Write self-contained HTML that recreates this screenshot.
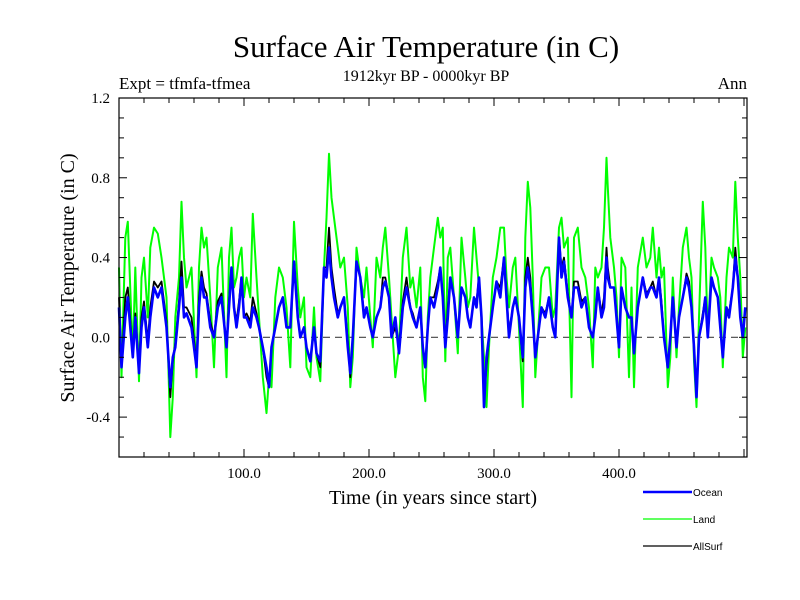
<!DOCTYPE html>
<html><head><meta charset="utf-8"><style>
html,body{margin:0;padding:0;background:#fff;}
svg{display:block;font-family:"Liberation Serif",serif;}
</style></head><body>
<svg id="chart" width="800" height="600" viewBox="0 0 800 600">
<rect width="800" height="600" fill="#fff"/>
<text x="426" y="57" font-size="31" text-anchor="middle">Surface Air Temperature (in C)</text>
<text x="426" y="81" font-size="16" text-anchor="middle">1912kyr BP - 0000kyr BP</text>
<text x="119" y="89" font-size="17">Expt = tfmfa-tfmea</text>
<text x="747" y="89" font-size="17" text-anchor="end">Ann</text>
<text transform="translate(74,278) rotate(-90)" font-size="20" text-anchor="middle">Surface Air Temperature (in C)</text>
<text x="433" y="504" font-size="20" text-anchor="middle">Time (in years since start)</text>
<g id="series"></g>
<g id="axes"></g>
<g font-family="Liberation Sans, sans-serif" font-size="10">
<g><line x1="643" y1="492" x2="692" y2="492" stroke="#0000ff" stroke-width="2.5"/><text x="693" y="496">Ocean</text></g>
<g><line x1="643" y1="519" x2="692" y2="519" stroke="#00ff00" stroke-width="1.2"/><text x="693" y="523">Land</text></g>
<g><line x1="643" y1="546" x2="692" y2="546" stroke="#000" stroke-width="1.2"/><text x="693" y="550">AllSurf</text></g>
</g>
</svg>
<script>
const years=[0,2,5,7,11,13,16,18,20,23,25,28,31,34,38,41,43,45,48,50,52,54,58,62,64,66,68,70,73,76,79,82,86,88,90,92,94,96,98,100,102,105,107,110,112,115,118,120,122,125,128,131,134,137,140,143,145,148,150,153,156,158,161,164,166,168,170,172,175,177,180,183,185,187,190,193,196,198,201,203,206,209,211,213,216,218,221,224,227,230,233,235,238,241,243,245,247,249,252,255,257,259,261,263,265,268,271,274,277,279,281,284,286,288,290,292,294,296,299,302,305,308,310,312,315,317,320,323,325,327,329,331,333,336,338,341,344,347,349,352,354,356,359,362,364,367,370,373,376,379,381,383,386,388,390,391,393,396,398,400,402,405,408,410,412,415,419,422,425,427,430,432,434,436,439,441,443,446,448,451,454,456,458,460,462,464,467,469,471,474,476,479,481,483,486,488,491,493,495,497,499,501];
const ocean=[.15,-.15,.1,.2,-.1,.1,-.18,.05,.15,-.05,.1,.25,.2,.25,.05,-.25,-.1,-.05,.15,.3,.1,.12,.05,-.15,.15,.3,.2,.2,.05,0,.15,.2,-.05,.15,.35,.15,.05,.15,.3,.1,.1,.05,.15,.1,.05,-.05,-.15,-.25,-.05,.05,.15,.2,.05,.05,.38,.1,0,.05,-.05,-.12,.05,-.08,-.12,.35,.3,.45,.3,.2,.1,.15,.2,-.05,-.18,0,.38,.3,.1,.15,.05,0,.1,.15,.25,.28,.2,0,.1,-.08,.15,.25,.15,.1,.05,.15,-.05,-.15,.05,.2,.15,.25,.35,.2,-.05,.1,.3,.2,0,.25,.2,.1,.05,.2,.15,.3,.1,-.35,-.1,0,.15,.28,.2,.4,.2,0,.15,.2,.1,-.1,.25,.35,.25,.1,-.1,.05,.15,.1,.2,.05,0,.5,.3,.38,.2,.1,.25,.25,.15,.2,.05,0,.1,.25,.1,.15,.4,.3,.25,.25,.1,-.05,.25,.15,.1,.1,-.08,.15,.3,.2,.25,.25,.2,.3,.15,0,-.15,0,.2,-.05,.1,.2,.3,.25,.15,-.05,-.3,0,.1,.2,0,.3,.25,.2,.05,-.1,.15,.1,.25,.4,.3,.1,0,.15];
const land=[.35,-.2,.5,.58,-.1,.35,-.22,.3,.4,.1,.45,.55,.52,.4,.2,-.5,-.3,.1,.3,.68,.4,.25,.35,-.2,.35,.55,.45,.5,.2,-.15,.35,.45,-.2,.4,.55,.25,.3,.4,.45,.2,.3,.2,.62,.3,.1,-.2,-.38,-.2,-.25,.2,.35,.3,.15,-.15,.58,.25,.1,.2,-.15,-.2,.15,-.1,-.22,.35,.6,.92,.7,.6,.45,.35,.4,.15,-.25,-.1,.45,.3,.2,.35,.1,-.05,.4,.3,.45,.55,.3,.1,-.2,-.05,.4,.55,.25,.3,.15,.35,-.2,-.32,.1,.3,.45,.6,.5,.55,-.12,.4,.45,.2,-.08,.5,.3,.15,.2,.55,.4,.25,.1,-.1,-.35,-.05,.3,.4,.55,.55,.3,.15,.35,.4,.05,-.35,.5,.78,.65,.3,-.2,.1,.3,.35,.35,.1,.15,.55,.6,.45,.5,-.3,.5,.55,.35,.3,.15,-.15,.35,.3,.35,.55,.9,.75,.5,.35,.2,-.1,.4,.35,-.2,.25,-.25,.35,.5,.35,.4,.55,.3,.45,.3,.35,-.25,-.1,.3,-.1,.15,.45,.55,.4,.3,-.12,-.35,.1,.68,.45,0,.4,.35,.3,.2,-.15,.3,.45,.4,.78,.5,.3,-.1,.05];
const allsurf=[.2,-.15,.2,.25,-.08,.12,-.15,.1,.18,-.02,.15,.28,.25,.28,.08,-.3,-.12,-.03,.18,.38,.15,.15,.1,-.13,.2,.33,.25,.22,.08,0,.18,.22,-.05,.18,.35,.15,.08,.18,.3,.1,.12,.08,.2,.12,.05,-.05,-.2,-.25,-.05,.05,.15,.2,.05,.05,.38,.1,0,.05,-.05,-.12,.05,-.08,-.15,.35,.35,.55,.35,.25,.12,.15,.2,-.02,-.2,0,.38,.3,.12,.15,.05,0,.1,.15,.3,.3,.2,0,.05,-.05,.18,.3,.15,.12,.05,.15,-.05,-.15,.05,.2,.2,.28,.35,.2,-.05,.15,.3,.2,0,.25,.2,.1,.05,.2,.18,.3,.1,-.3,-.15,0,.15,.28,.25,.4,.22,.02,.15,.2,.1,-.12,.3,.4,.3,.1,-.1,.05,.15,.12,.2,.05,0,.5,.35,.4,.22,.1,.28,.28,.18,.2,.05,0,.1,.25,.12,.2,.45,.35,.25,.25,.12,-.05,.25,.15,.1,.1,-.08,.15,.3,.22,.25,.28,.2,.3,.18,0,-.15,0,.2,-.05,.1,.2,.32,.28,.15,-.05,-.3,0,.12,.2,0,.3,.25,.2,.05,-.1,.15,.12,.25,.45,.3,.1,0,.15];
const xTicks=[100,200,300,400];
const xTickLabels=["100.0","200.0","300.0","400.0"];
const yTicks=[-0.4,0,0.4,0.8,1.2];
const yTickLabels=["-0.4","0.0","0.4","0.8","1.2"];

const NS="http://www.w3.org/2000/svg";
const L=119,R=747,T=98,B=457,XMIN=0,XMAX=502.4,YMIN=-0.6,YMAX=1.2;
function sx(v){return L+(v-XMIN)/(XMAX-XMIN)*(R-L);}
function sy(v){return B-(v-YMIN)/(YMAX-YMIN)*(B-T);}
function mk(tag,attrs,parent){const e=document.createElementNS(NS,tag);for(const k in attrs)e.setAttribute(k,attrs[k]);parent.appendChild(e);return e;}
const sg=document.getElementById('series');
const ax=document.getElementById('axes');

const zl=mk('line',{x1:L,x2:R,y1:sy(0),y2:sy(0),stroke:'#444','stroke-width':1.2,'stroke-dasharray':'7,5'},sg);



function drawSeries(vals,color,w,name){
  let d='';
  for(let i=0;i<years.length;i++){d+=(i?'L':'M')+sx(years[i]).toFixed(1)+','+sy(vals[i]).toFixed(1);}
  const p=mk('path',{d:d,fill:'none',stroke:color,'stroke-width':w,'stroke-linejoin':'round'},sg);
  
  
}
drawSeries(land,'#00ff00',2,'land-line');
drawSeries(allsurf,'#000000',1.8,'allsurf-line');
drawSeries(ocean,'#0000ff',2.6,'ocean-line');

const frame=mk('rect',{x:L,y:T,width:R-L,height:B-T,fill:'none',stroke:'#000','stroke-width':1.2},ax);



for(let v=20;v<XMAX;v+=20){
  const major=(v%100===0);const len=major?8:5;
  mk('line',{x1:sx(v),x2:sx(v),y1:B,y2:B-len,stroke:'#000','stroke-width':1},ax);
  mk('line',{x1:sx(v),x2:sx(v),y1:T,y2:T+len,stroke:'#000','stroke-width':1},ax);
}
for(let k=-5;k<=11;k++){
  const v=k/10;const major=(k%4===0);const len=major?8:5;
  mk('line',{x1:L,x2:L+len,y1:sy(v),y2:sy(v),stroke:'#000','stroke-width':1},ax);
  mk('line',{x1:R,x2:R-len,y1:sy(v),y2:sy(v),stroke:'#000','stroke-width':1},ax);
}
xTicks.forEach((v,i)=>{
  const t=mk('text',{x:sx(v),y:B+21,'font-size':15,'text-anchor':'middle'},ax);
  t.textContent=xTickLabels[i];
  
  
});
yTicks.forEach((v,i)=>{
  const t=mk('text',{x:L-9,y:sy(v)+5,'font-size':15,'text-anchor':'end'},ax);
  t.textContent=yTickLabels[i];
  
  
});
</script>
</body></html>
